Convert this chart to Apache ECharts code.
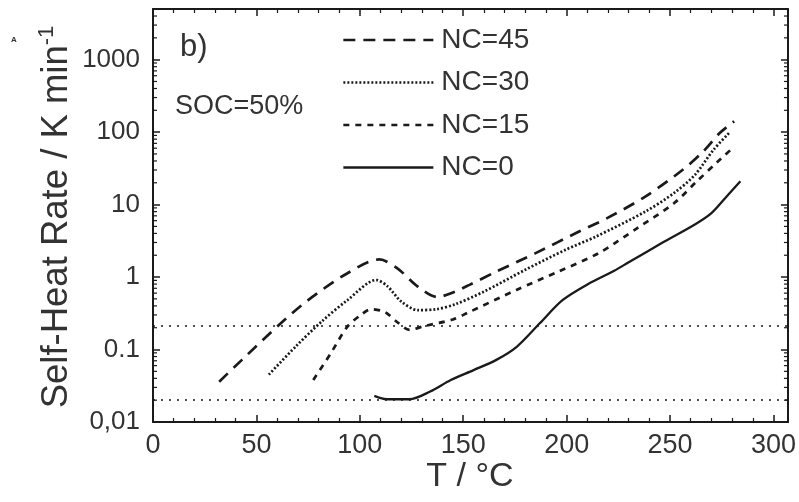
<!DOCTYPE html>
<html><head><meta charset="utf-8">
<script src="https://cdn.jsdelivr.net/npm/echarts@6/dist/echarts.min.js"></script>
<style>html,body{margin:0;padding:0;background:#fff}#c{width:799px;height:502px}</style>
</head><body><div id="c"></div>
<script>
// ---- data ----
var seriesNames = ['NC=45', 'NC=30', 'NC=15', 'NC=0'];
var nc45T = [32, 43, 61, 75, 94, 109.5, 118, 128, 137.5, 146, 153, 166, 185, 206, 220, 238, 256, 266, 274, 281];
var nc45V = [0.036, 0.072, 0.22, 0.48, 1.13, 1.75, 1.33, 0.74, 0.53, 0.63, 0.78, 1.19, 2.14, 4.25, 6.6, 12.9, 30, 54, 97, 141];
var nc30T = [56, 69, 81.5, 94, 108, 113.5, 120, 128, 137, 146, 160, 180, 199.5, 214, 238, 252, 262, 271, 278.5];
var nc30V = [0.045, 0.11, 0.243, 0.48, 0.91, 0.74, 0.46, 0.35, 0.36, 0.42, 0.63, 1.26, 2.38, 3.6, 8.0, 14.5, 25.7, 57, 97];
var nc15T = [77.5, 86, 94, 100.5, 105.5, 112, 118, 124, 131, 145, 152, 176, 196, 215.5, 234, 252, 263, 273, 279];
var nc15V = [0.038, 0.089, 0.207, 0.30, 0.36, 0.33, 0.24, 0.187, 0.21, 0.26, 0.32, 0.67, 1.19, 2.14, 4.7, 10.5, 21, 39, 56];
var nc0T = [107, 113, 124, 134, 144, 155, 166, 176, 187, 198, 211, 223, 230, 246, 262, 270, 278, 284];
var nc0V = [0.0229, 0.0206, 0.0206, 0.0263, 0.038, 0.052, 0.072, 0.11, 0.23, 0.48, 0.82, 1.22, 1.6, 2.94, 5.3, 7.6, 13.6, 21];
var refLines = [0.21, 0.021];
var xTicks = [0, 50, 100, 150, 200, 250, 300];
var yTicks = [0.01, 0.1, 1, 10, 100, 1000];

function pairs(t, v) { return t.map(function (x, i) { return [x, v[i]]; }); }
// log minor tick positions (2..9 x 10^n)
var minorVals = [];
for (var e = -2; e <= 3; e++) for (var m = 2; m <= 9; m++) { var mv = m * Math.pow(10, e); if (mv < 5000) minorVals.push([0, mv]); }

var FONT = "'Liberation Sans', Arial, sans-serif";
var TXT = '#333';
var LINE = '#1a1a1a';

var chart = echarts.init(document.getElementById('c'), null, { renderer: 'canvas' });

var commonX = {
  type: 'value', min: 0, max: 307, interval: 50,
  axisLine: { show: true, onZero: false, lineStyle: { color: LINE, width: 2 } },
  axisTick: { show: true, inside: true, length: 7, lineStyle: { color: LINE, width: 1.5 } },
  minorTick: { show: true, splitNumber: 5, length: 4, lineStyle: { color: LINE, width: 1.2 } },
  splitLine: { show: false }
};
var commonY = {
  type: 'log', logBase: 10, min: 0.01, max: 5000,
  axisLine: { show: true, onZero: false, lineStyle: { color: LINE, width: 2 } },
  axisTick: { show: true, inside: true, length: 7, lineStyle: { color: LINE, width: 1.5 } },
  splitLine: { show: false }
};

function lineSeries(name, t, v, dash, width) {
  return {
    name: name, type: 'line', data: pairs(t, v), smooth: 0.3, symbol: 'none', showSymbol: false,
    lineStyle: { color: LINE, width: width, type: dash, cap: 'butt' },
    itemStyle: { color: LINE }, z: 3, silent: true
  };
}

var series = [
  lineSeries('NC=45', nc45T, nc45V, [12, 8], 2.7),
  lineSeries('NC=30', nc30T, nc30V, [2, 2], 2.7),
  lineSeries('NC=15', nc15T, nc15V, [6, 6], 2.7),
  lineSeries('NC=0', nc0T, nc0V, 'solid', 2.3)
];
series[3].markLine = {
  silent: true, symbol: 'none', label: { show: false },
  lineStyle: { color: LINE, width: 1.6, type: [2, 6] },
  data: refLines.map(function (v) { return { yAxis: v }; })
};
series.push({
  type: 'custom', silent: true, data: minorVals, clip: false, z: 4,
  renderItem: function (params, api) {
    var y = api.coord([0, api.value(1)])[1];
    var cs = params.coordSys;
    return {
      type: 'group', children: [
        { type: 'line', shape: { x1: cs.x, y1: y, x2: cs.x + 4, y2: y }, style: { stroke: LINE, lineWidth: 1.2 } },
        { type: 'line', shape: { x1: cs.x + cs.width, y1: y, x2: cs.x + cs.width - 4, y2: y }, style: { stroke: LINE, lineWidth: 1.2 } }
      ]
    };
  }
});

chart.setOption({
  backgroundColor: '#fff',
  animation: false,
  grid: { left: 153, right: 4, top: 9, bottom: 80, containLabel: false },
  xAxis: [
    Object.assign({}, commonX, {
      position: 'bottom',
      axisLabel: { show: true, fontSize: 27, color: TXT, fontFamily: FONT, margin: 10, showMaxLabel: false,
        formatter: function (v) { return xTicks.indexOf(v) >= 0 ? String(v) : ''; } }
    }),
    Object.assign({}, commonX, { position: 'top', axisLabel: { show: false } })
  ],
  yAxis: [
    Object.assign({}, commonY, {
      position: 'left',
      axisLabel: { show: true, fontSize: 26, color: TXT, fontFamily: FONT, margin: 13, showMaxLabel: false,
        formatter: function (v) {
          for (var i = 0; i < yTicks.length; i++) {
            if (Math.abs(v - yTicks[i]) / yTicks[i] < 1e-6) return yTicks[i] === 0.01 ? '0,01' : String(yTicks[i]);
          }
          return '';
        } }
    }),
    Object.assign({}, commonY, { position: 'right', axisLabel: { show: false } })
  ],
  legend: {
    data: seriesNames, orient: 'vertical', left: 337, top: 21,
    itemWidth: 90, itemHeight: 14, itemGap: 14.5,
    itemStyle: { opacity: 0 },
    lineStyle: { width: 2.7 },
    textStyle: { fontSize: 28, color: TXT, fontFamily: FONT, padding: [0, 0, 0, 3] },
    selectedMode: false
  },
  graphic: [
    { type: 'text', left: 180, top: 32, style: { text: 'b)', fontSize: 31, fill: TXT, fontFamily: FONT } },
    { type: 'text', left: 175, top: 93, style: { text: 'SOC=50%', fontSize: 27, fill: TXT, fontFamily: FONT } },
    { type: 'text', left: 11, top: 36, style: { text: 'A', fontSize: 8, fontWeight: 'bold', fill: TXT, fontFamily: FONT } },
    { type: 'text', x: 470, y: 477, style: { text: 'T / \u00B0C', fontSize: 34, fill: TXT, fontFamily: FONT, align: 'center', verticalAlign: 'middle' } },
    { type: 'text', x: 57, y: 217, rotation: Math.PI / 2,
      style: { text: '{a|Self-Heat Rate / K min}{b|-1}', fill: TXT, fontFamily: FONT, align: 'center', verticalAlign: 'middle',
        rich: { a: { fontSize: 36.5, fill: TXT, fontFamily: FONT, lineHeight: 42 },
                b: { fontSize: 22, fill: TXT, fontFamily: FONT, verticalAlign: 'top', lineHeight: 23 } } } }
  ],
  series: series
});
</script>
</body></html>
